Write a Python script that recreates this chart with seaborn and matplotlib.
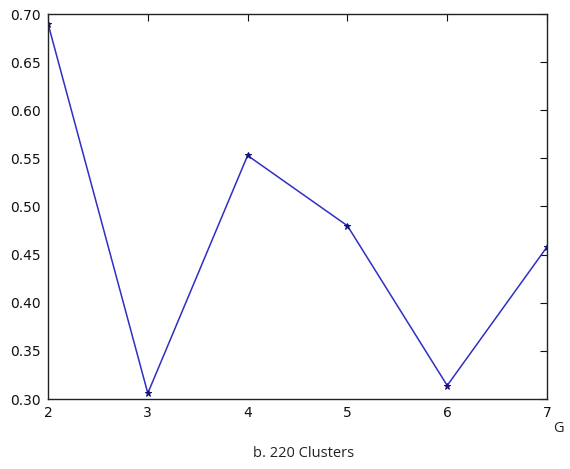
import matplotlib
matplotlib.use("Agg")
import matplotlib.pyplot as plt
import seaborn as sns
import pandas as pd

# Score per number of groups G
groups = [2, 3, 4, 5, 6, 7]
scores = [0.690, 0.306, 0.553, 0.480, 0.314, 0.458]
x_ticks = [2, 3, 4, 5, 6, 7]
y_ticks = [0.30, 0.35, 0.40, 0.45, 0.50, 0.55, 0.60, 0.65, 0.70]

sns.set_style("white")
plt.rcParams["font.family"] = ["DejaVu Sans"]

df = pd.DataFrame({"G": groups, "score": scores})

fig = plt.figure(figsize=(5.70, 4.69), dpi=100)
ax = fig.add_axes([48 / 570, 1 - 399 / 469, (547 - 48) / 570, (399 - 14) / 469])

sns.lineplot(data=df, x="G", y="score", ax=ax, color="#2f2fc4", linewidth=1.1,
             marker="*", markersize=5, markerfacecolor="#14147a",
             markeredgecolor="#14147a")

ax.set_xlim(2, 7)
ax.set_ylim(0.30, 0.70)
ax.set_xticks(x_ticks)
ax.set_yticks(y_ticks)
ax.set_yticklabels([f"{v:.2f}" for v in y_ticks])
ax.tick_params(direction="in", length=5, width=0.8, labelsize=10,
               top=True, right=True, colors="#111111", pad=5)
ax.set_xlabel("")
ax.set_ylabel("")
for sp in ax.spines.values():
    sp.set_color("#222222")
    sp.set_linewidth(1.0)

fig.text(558 / 570, 1 - 428 / 469, "G", fontsize=10.5, ha="center", va="center",
         color="#222222", family="Open Sans")
fig.text(304 / 570, 1 - 453 / 469, "b. 220 Clusters", fontsize=10.5, ha="center",
         va="center", color="#222222", family="Open Sans")

fig.savefig("out.png", dpi=100, facecolor="white")
